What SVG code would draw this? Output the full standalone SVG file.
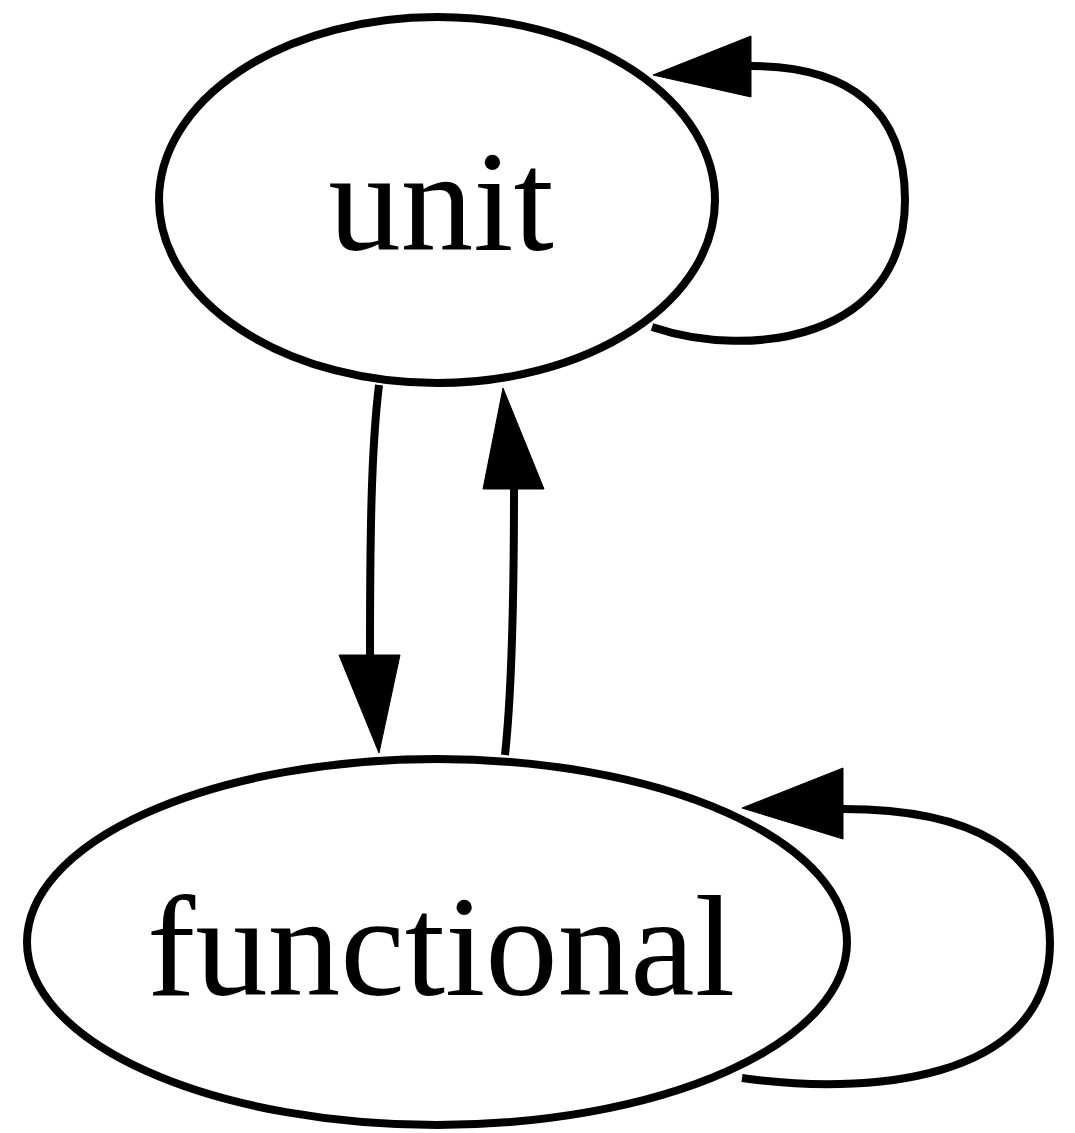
<svg xmlns="http://www.w3.org/2000/svg" width="1075" height="1133" viewBox="0 0 1075 1133">
<style>
.node ellipse{fill:none;stroke:#000;stroke-width:8}
.node text{font-family:"Liberation Serif","Times New Roman",serif;font-size:145px;text-anchor:middle;fill:#000}
.edge path{fill:none;stroke:#000;stroke-width:8}
.edge polygon{fill:#000;stroke:#000;stroke-width:1}
</style>
<rect width="1075" height="1133" fill="#fff"/>
<g id="node-unit" class="node">
<ellipse cx="437" cy="200" rx="278" ry="183"/>
<text x="441" y="250">unit</text>
</g>
<g id="node-functional" class="node">
<ellipse cx="437" cy="942" rx="410" ry="183"/>
<text x="441" y="995">functional</text>
</g>
<g id="edges" class="edge">
<path d="M652,327 C750,360 905,340 905,200 C905,110 850,66 751,66"/>
<polygon points="751,36 653,75 751,97"/>
<path d="M379,385 C371,450 370,540 370,655"/>
<polygon points="339,655 379,753 400,655"/>
<path d="M505,755 C512,690 514,600 514,489"/>
<polygon points="483,489 503,388 544,489"/>
<path d="M742,1078 C860,1095 1050,1085 1050,943 C1050,850 970,809 843,809"/>
<polygon points="843,768 742,808 843,839"/>
</g>
</svg>
